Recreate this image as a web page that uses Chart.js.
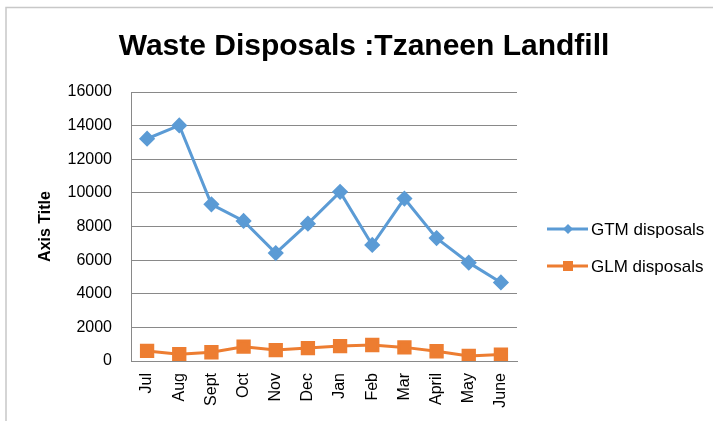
<!DOCTYPE html>
<html>
<head>
<meta charset="utf-8">
<script src="https://cdn.jsdelivr.net/npm/chart.js@4.4.0/dist/chart.umd.min.js"></script>
<style>
  body { margin: 0; background: #fff; }
  #wrap { position: relative; width: 713px; height: 421px; }
</style>
</head>
<body>
<div id="wrap"><canvas id="wasteChart" width="713" height="421"></canvas></div>
<script>
// months on the x axis
const months = ["Jul", "Aug", "Sept", "Oct", "Nov", "Dec", "Jan", "Feb", "Mar", "April", "May", "June"];

// values
const gtmDisposals = [13220, 14010, 9320, 8330, 6420, 8170, 10060, 6900, 9660, 7310, 5850, 4670];
const glmDisposals = [600, 400, 520, 850, 650, 770, 890, 950, 810, 580, 300, 380];

const chartTitle = "Waste Disposals :Tzaneen Landfill";
const fontFam = "'Liberation Sans', Arial, sans-serif";

// frame round the whole chart + title + legend
const extras = {
    id: "extras",
    afterDraw(chart) {
        const ctx = chart.ctx;
        ctx.save();
        // outer border
        ctx.strokeStyle = "#c8c8c8";
        ctx.lineWidth = 1.5;
        ctx.beginPath();
        ctx.moveTo(6, 430);
        ctx.lineTo(6, 7.5);
        ctx.lineTo(720, 7.5);
        ctx.stroke();

        // title
        ctx.fillStyle = "#000";
        ctx.font = "bold 30px " + fontFam;
        ctx.textAlign = "center";
        ctx.textBaseline = "middle";
        ctx.fillText(chartTitle, 364, 47);

        // legend
        const rows = [229, 266];
        chart.data.datasets.forEach((ds, i) => {
            const y = rows[i];
            ctx.strokeStyle = ds.borderColor;
            ctx.lineWidth = 3;
            ctx.beginPath();
            ctx.moveTo(547, y);
            ctx.lineTo(588, y);
            ctx.stroke();
            ctx.fillStyle = ds.borderColor;
            if (ds.pointStyle === "rectRot") {
                ctx.beginPath();
                ctx.moveTo(568, y - 5);
                ctx.lineTo(573, y);
                ctx.lineTo(568, y + 5);
                ctx.lineTo(563, y);
                ctx.closePath();
                ctx.fill();
            } else {
                ctx.fillRect(563, y - 5, 10, 10);
            }
            ctx.fillStyle = "#000";
            ctx.font = "17px " + fontFam;
            ctx.textAlign = "left";
            ctx.fillText(ds.label, 591, y + 1);
        });
        ctx.restore();
    }
};

const ctx = document.getElementById("wasteChart").getContext("2d");

new Chart(ctx, {
    type: "line",
    data: {
        labels: months,
        datasets: [
            {
                label: "GTM disposals",
                data: gtmDisposals,
                borderColor: "#5B9BD5",
                backgroundColor: "#5B9BD5",
                borderWidth: 3,
                pointStyle: "rectRot",
                pointRadius: 6,
                tension: 0
            },
            {
                label: "GLM disposals",
                data: glmDisposals,
                borderColor: "#ED7D31",
                backgroundColor: "#ED7D31",
                borderWidth: 3,
                pointStyle: "rect",
                pointRadius: 8,
                tension: 0
            }
        ]
    },
    options: {
        responsive: false,
        animation: false,
        layout: { padding: { top: 92, right: 196, bottom: 0, left: 0 } },
        plugins: {
            legend: { display: false },
            title: { display: false },
            tooltip: { enabled: false }
        },
        scales: {
            x: {
                offset: true,
                grid: { display: false, drawTicks: false },
                border: { color: "#898989", width: 1 },
                ticks: {
                    color: "#000",
                    font: { family: fontFam, size: 16 },
                    minRotation: 90,
                    maxRotation: 90,
                    padding: 12,
                    autoSkip: false
                },
                afterFit(scale) { scale.height = 60; }
            },
            y: {
                min: 0,
                max: 16000,
                grid: { color: "#898989", drawTicks: false },
                border: { color: "#898989", width: 1 },
                ticks: {
                    stepSize: 2000,
                    color: "#000",
                    font: { family: fontFam, size: 16 },
                    padding: 19,
                    callback: (v) => String(v)
                },
                title: {
                    display: true,
                    text: "Axis Title",
                    color: "#000",
                    font: { family: fontFam, size: 16, weight: "bold" },
                    padding: { top: 36, bottom: 0 }
                },
                afterFit(scale) { scale.width = 131; }
            }
        }
    },
    plugins: [extras]
});
</script>
</body>
</html>
